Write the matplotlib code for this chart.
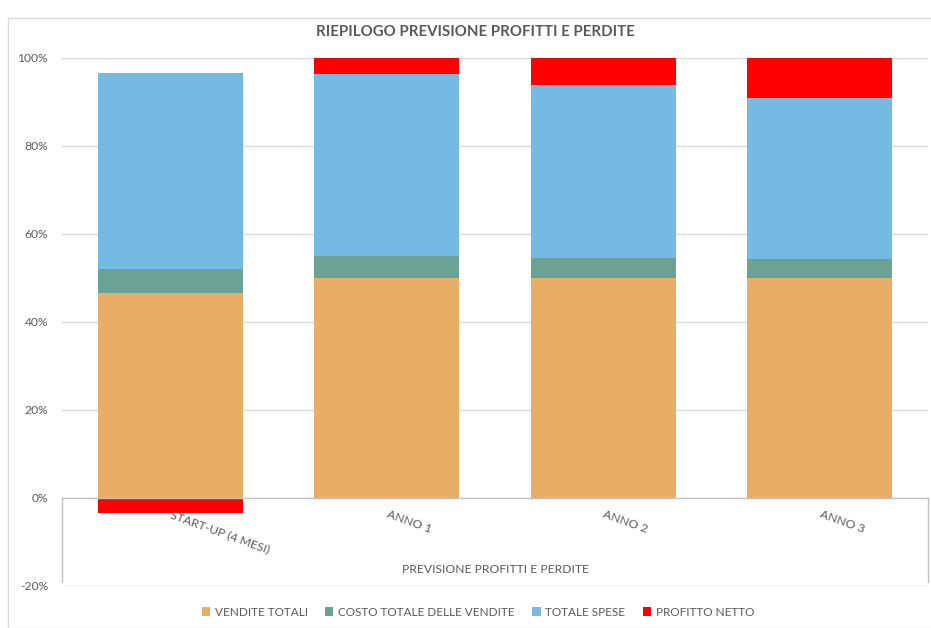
import matplotlib
matplotlib.use("Agg")
import matplotlib.pyplot as plt
from matplotlib.patches import Rectangle, Patch
import numpy as np

plt.rcParams['font.family'] = ['Lato', 'DejaVu Sans']

categories = ["START-UP (4 MESI)", "ANNO 1", "ANNO 2", "ANNO 3"]
series_names = ["VENDITE TOTALI", "COSTO TOTALE DELLE VENDITE", "TOTALE SPESE", "PROFITTO NETTO"]
vendite_totali = [46.6, 50.0, 50.0, 49.9]
costo_vendite = [5.4, 4.9, 4.5, 4.4]
totale_spese = [44.6, 41.4, 39.3, 36.7]
profitto_netto = [-3.3, 3.7, 6.2, 9.0]
y_ticks = [-20, 0, 20, 40, 60, 80, 100]
title = "RIEPILOGO PREVISIONE PROFITTI E PERDITE"
axis_title = "PREVISIONE PROFITTI E PERDITE"

colors = ["#E8AE66", "#6BA293", "#75BAE2", "#FF0000"]
text_color = "#595959"
grid_color = "#D9D9D9"

W, H = 931, 628
fig = plt.figure(figsize=(W / 100, H / 100), dpi=100)

# chart border
fig.patches.append(Rectangle((8 / W, 0), 1.0, 1 - 18 / H, transform=fig.transFigure,
                             fill=False, edgecolor=grid_color, linewidth=1.0))

ax = fig.add_axes([62 / W, 1 - 586 / H, (928 - 62) / W, (586 - 58) / H])
ax.set_xlim(-0.5, 3.5)
ax.set_ylim(-20, 100)
for s in ax.spines.values():
    s.set_visible(False)
ax.set_xticks([])
ax.set_yticks(y_ticks)
ax.set_yticklabels([f"{t}%" for t in y_ticks], color=text_color, fontsize=8.7)
ax.tick_params(axis='y', length=0, pad=10)

for t in y_ticks:
    if t != 0:
        ax.axhline(t, color=grid_color, linewidth=1.0, zorder=0)

x = np.arange(len(categories))
data = [vendite_totali, costo_vendite, totale_spese, profitto_netto]
pos_bottom = np.zeros(len(categories))
neg_bottom = np.zeros(len(categories))
width = 0.67
for vals, col in zip(data, colors):
    vals = np.array(vals, dtype=float)
    bottoms = np.where(vals >= 0, pos_bottom, neg_bottom)
    ax.bar(x, vals, width=width, bottom=bottoms, color=col, edgecolor='none', zorder=2)
    pos_bottom = pos_bottom + np.where(vals >= 0, vals, 0)
    neg_bottom = neg_bottom + np.where(vals < 0, vals, 0)

# category axis (multi-level)
ax.axhline(0, color="#BFBFBF", linewidth=1.0, zorder=3)
ax.plot([-0.5, -0.5], [0, -19.1], color="#BFBFBF", linewidth=1.0, clip_on=False, zorder=3)
ax.plot([3.5, 3.5], [0, -19.1], color="#BFBFBF", linewidth=1.0, clip_on=False, zorder=3)

for i, c in enumerate(categories):
    ax.text(i + 0.01, -2.5, c, rotation=-20, rotation_mode='anchor', ha='left', va='top',
            color=text_color, fontsize=8.7)

ax.text(1.5, -16.3, axis_title, ha='center', va='center', color=text_color, fontsize=8.7)

fig.text(475 / W, 1 - 32 / H, title, ha='center', va='center', color=text_color,
         fontsize=10.8, fontweight='bold')

handles = [Patch(facecolor=c, edgecolor='none') for c in colors]
fig.legend(handles, series_names, loc='center', bbox_to_anchor=(478 / W, 1 - 612 / H),
           ncol=4, frameon=False, fontsize=8.5, labelcolor=text_color,
           handlelength=0.7, handleheight=0.7, handletextpad=0.4, columnspacing=1.5)

fig.savefig("out.png", dpi=100)
